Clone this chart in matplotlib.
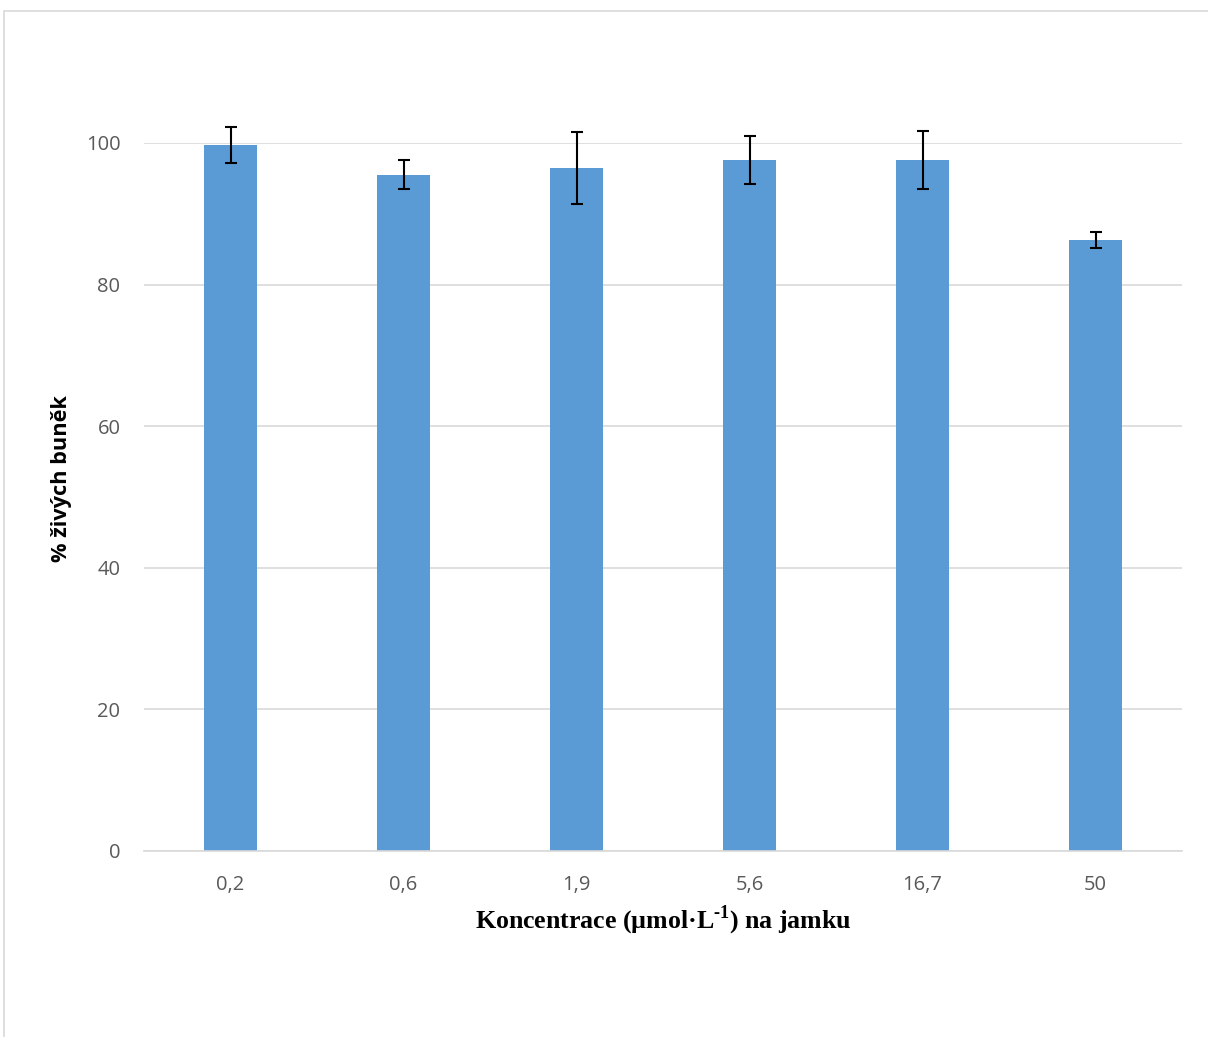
import numpy as np
import matplotlib
matplotlib.use("Agg")
import matplotlib.pyplot as plt
from matplotlib.patches import Rectangle

# =====================================================
# Data
# =====================================================

concentrations = ["0,2", "0,6", "1,9", "5,6", "16,7", "50"]
viable_cells = [99.7, 95.5, 96.5, 97.6, 97.6, 86.3]
errors = [2.5, 2.05, 5.05, 3.45, 4.15, 1.1]

# =====================================================
# Styles
# =====================================================

plt.rcParams["mathtext.fontset"] = "custom"
plt.rcParams["mathtext.rm"] = "Liberation Serif:bold"
plt.rcParams["mathtext.bf"] = "Liberation Serif:bold"

fig = plt.figure(figsize=(12.08, 10.37), dpi=100)

# chart border (cropped Excel frame)
fig.patches.append(
    Rectangle(
        (3.5 / 1208, -0.1),
        1.2,
        1.1 - 10.5 / 1037,
        transform=fig.transFigure,
        fill=False,
        edgecolor="#D9D9D9",
        linewidth=1.2
    )
)

ax = fig.add_axes([144 / 1208, 1 - 851 / 1037, 1038 / 1208, 708 / 1037])

x = np.arange(len(concentrations))

ax.bar(x, viable_cells, width=0.31, color="#5B9BD5", zorder=3)

ax.errorbar(
    x,
    viable_cells,
    yerr=errors,
    fmt="none",
    ecolor="black",
    elinewidth=1.5,
    capsize=4.5,
    capthick=1.5,
    zorder=4,
    clip_on=False
)

ax.set_xlim(-0.5, len(concentrations) - 0.5)
ax.set_ylim(0, 100)
ax.set_yticks([0, 20, 40, 60, 80, 100])
ax.set_xticks(x)
ax.set_xticklabels(concentrations)

ax.grid(axis="y", color="#D9D9D9", linewidth=1.2, zorder=0)

for side in ["top", "right", "left"]:
    ax.spines[side].set_visible(False)
ax.spines["bottom"].set_color("#D9D9D9")
ax.spines["bottom"].set_linewidth(1.2)
ax.spines["bottom"].set_zorder(5)

ax.tick_params(axis="both", length=0, labelsize=14.5, labelcolor="#595959", pad=17)
for lbl in ax.get_xticklabels() + ax.get_yticklabels():
    lbl.set_family("Open Sans")

fig.text(
    62 / 1208, 1 - 479 / 1037,
    "% živých buněk",
    rotation=90,
    ha="center",
    va="center",
    fontsize=15.7,
    fontweight="bold",
    family="Open Sans"
)

fig.text(
    663 / 1208, 1 - 920 / 1037,
    "Koncentrace (µmol·L$^{\u2010 1}$) na jamku",
    ha="center",
    va="center",
    fontsize=18.6,
    fontweight="bold",
    family="Liberation Serif"
)

plt.savefig("out.png", dpi=100)
plt.close()
